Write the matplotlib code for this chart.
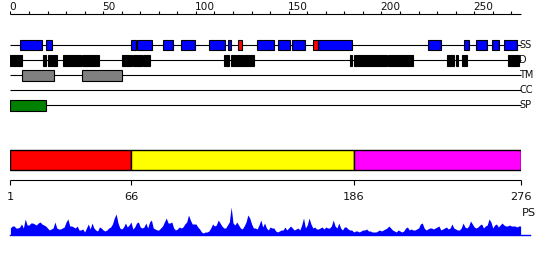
import matplotlib
matplotlib.use("Agg")
import matplotlib.pyplot as plt
import numpy as np

plt.rcParams['font.family'] = ['DejaVu Sans']

# ---------------- data ----------------
track_names = ["SS", "D", "TM", "CC", "SP"]

ss_starts = [5, 19, 65, 68.5, 82.5, 92, 107, 117.5, 122.5, 133, 144, 152, 163, 166, 225, 244.5, 251, 259.5, 266]
ss_ends   = [17, 22.5, 67.5, 76.5, 87.5, 99.5, 115.5, 119, 125, 142, 150.5, 159, 166, 184, 232, 247, 257, 263.5, 273]
ss_colors = ["blue"] * 8 + ["red"] + ["blue"] * 3 + ["red"] + ["blue"] * 6

d_starts = [0, 17.5, 20.5, 28.5, 38.5, 60, 66, 71.5, 115, 119, 183, 185, 203.5, 235.5, 240, 243.5, 268]
d_ends   = [6, 19, 25, 38, 47.5, 65.5, 71, 75.5, 118, 131.5, 184.3, 203, 217, 239, 241.2, 246, 274.3]

tm_starts = [6.4, 38.7]
tm_ends = [23.6, 60.3]

cc_starts = []
cc_ends = []

sp_starts = [0]
sp_ends = [19.3]

top_ticks = list(range(0, 271, 10))
top_labels = list(range(0, 251, 50))

domain_starts = [1, 66, 186]
domain_ends = [66, 186, 276]
domain_colors = ["#ff0000", "#ffff00", "#ff00ff"]
bottom_ticks = [1, 66, 186, 276]

ps_values = [
    7, 9, 9, 7, 7, 8, 11, 7, 16, 10, 10, 12, 12, 11, 10, 12, 13, 11, 10, 9,
    7, 5, 6, 7, 13, 7, 6, 6, 7, 8, 13, 16, 9, 9, 8, 7, 9, 5, 5, 6,
    3, 7, 11, 6, 12, 7, 5, 4, 8, 7, 5, 4, 5, 7, 8, 11, 17, 21, 12, 7,
    6, 8, 12, 8, 10, 13, 6, 8, 12, 13, 8, 7, 8, 12, 7, 13, 15, 7, 6, 5,
    5, 7, 9, 13, 17, 12, 12, 13, 7, 5, 6, 8, 7, 8, 11, 13, 20, 15, 11, 11,
    11, 8, 6, 3, 2, 3, 3, 4, 7, 11, 9, 10, 15, 12, 9, 7, 7, 10, 13, 28,
    12, 10, 13, 10, 7, 6, 9, 13, 20, 17, 11, 7, 7, 6, 10, 15, 8, 12, 7, 5,
    8, 7, 7, 4, 3, 4, 5, 5, 8, 5, 7, 9, 7, 5, 6, 7, 5, 10, 17, 7,
    10, 17, 11, 7, 8, 6, 6, 7, 8, 6, 8, 7, 7, 9, 15, 9, 7, 12, 7, 5,
    8, 8, 6, 5, 5, 3, 4, 4, 3, 4, 5, 5, 6, 4, 4, 3, 3, 3, 4, 5,
    4, 5, 6, 7, 9, 7, 5, 4, 3, 5, 4, 3, 4, 7, 8, 5, 6, 5, 5, 6,
    7, 11, 12, 7, 5, 6, 7, 7, 6, 7, 8, 9, 5, 6, 7, 8, 6, 7, 11, 7,
    6, 5, 5, 7, 12, 8, 7, 9, 14, 11, 8, 7, 8, 10, 11, 7, 9, 10, 16, 13,
    7, 10, 11, 8, 10, 12, 10, 9, 9, 10, 9, 9, 9, 8, 9, 9,
]
ps_residues = list(range(1, len(ps_values) + 1))

# ---------------- layout ----------------
W, H = 550, 260
fig = plt.figure(figsize=(W / 100, H / 100), dpi=100)

x0_px, x1_px = 10.4, 520.6

def axes_px(top, bottom):
    return fig.add_axes([x0_px / W, (H - bottom) / H, (x1_px - x0_px) / W, (bottom - top) / H])

LW = 0.8
TXT = "#111111"

# Tracks + top ruler
ax1 = axes_px(0, 115)
ax1.set_xlim(0, 275)
ax1.set_ylim(115, 0)
ax1.axis("off")

ruler_y = 14
ax1.hlines(ruler_y, 0, 275, color="black", lw=LW, clip_on=False)
ax1.vlines(top_ticks, ruler_y - 3, ruler_y, color="black", lw=LW)
for t in top_labels:
    ax1.text(t - 0.4, ruler_y - 4, str(t), ha="left", va="baseline", fontsize=7.6, color=TXT)

row_y = {"SS": 45.3, "D": 60.3, "TM": 75.3, "CC": 90.3, "SP": 105.3}
box_h = 10.4

def draw_track(name, starts, ends, colors, edge):
    y = row_y[name]
    ax1.hlines(y, 0, 275, color="black", lw=LW, clip_on=False, zorder=1)
    if starts:
        widths = [e - s for s, e in zip(starts, ends)]
        ax1.barh([y] * len(starts), widths, left=starts, height=box_h, color=colors,
                 edgecolor=edge, linewidth=LW, zorder=2)
    ax1.text(274.4, y, name, ha="left", va="center", fontsize=7, color=TXT, clip_on=False)

draw_track("SS", ss_starts, ss_ends, ss_colors, "black")
draw_track("D", d_starts, d_ends, ["black"] * len(d_starts), "black")
draw_track("TM", tm_starts, tm_ends, ["#808080"] * len(tm_starts), "black")
draw_track("CC", cc_starts, cc_ends, [], "black")
draw_track("SP", sp_starts, sp_ends, ["#008000"] * len(sp_starts), "black")

# Domain bar + bottom ruler
ax2 = axes_px(140, 205)
ax2.set_xlim(1, 276)
ax2.set_ylim(205, 140)
ax2.axis("off")
ax2.barh([160] * len(domain_starts), [e - s for s, e in zip(domain_starts, domain_ends)],
         left=domain_starts, height=20, color=domain_colors, edgecolor="black", linewidth=1.0)
ax2.hlines(180.3, 1, 276, color="black", lw=LW, clip_on=False)
ax2.vlines(bottom_ticks, 180.3, 185, color="black", lw=LW, clip_on=False)
for t in bottom_ticks:
    ax2.text(t, 200, str(t), ha="center", va="baseline", fontsize=8.2, color=TXT, clip_on=False)

# PS profile
ax3 = axes_px(205, 235)
ax3.set_xlim(1, 276)
ax3.set_ylim(0, 30)
ax3.axis("off")
ax3.fill_between(ps_residues, 0, ps_values, color="#0000ff", linewidth=0)
ax3.plot([1, 281], [0, 0], color="#0000ff", lw=1.0, clip_on=False)
ax3.text(276.6, 21.5, "PS", ha="left", va="center", fontsize=8.2, color=TXT, clip_on=False)

fig.savefig("out.png", dpi=100)
